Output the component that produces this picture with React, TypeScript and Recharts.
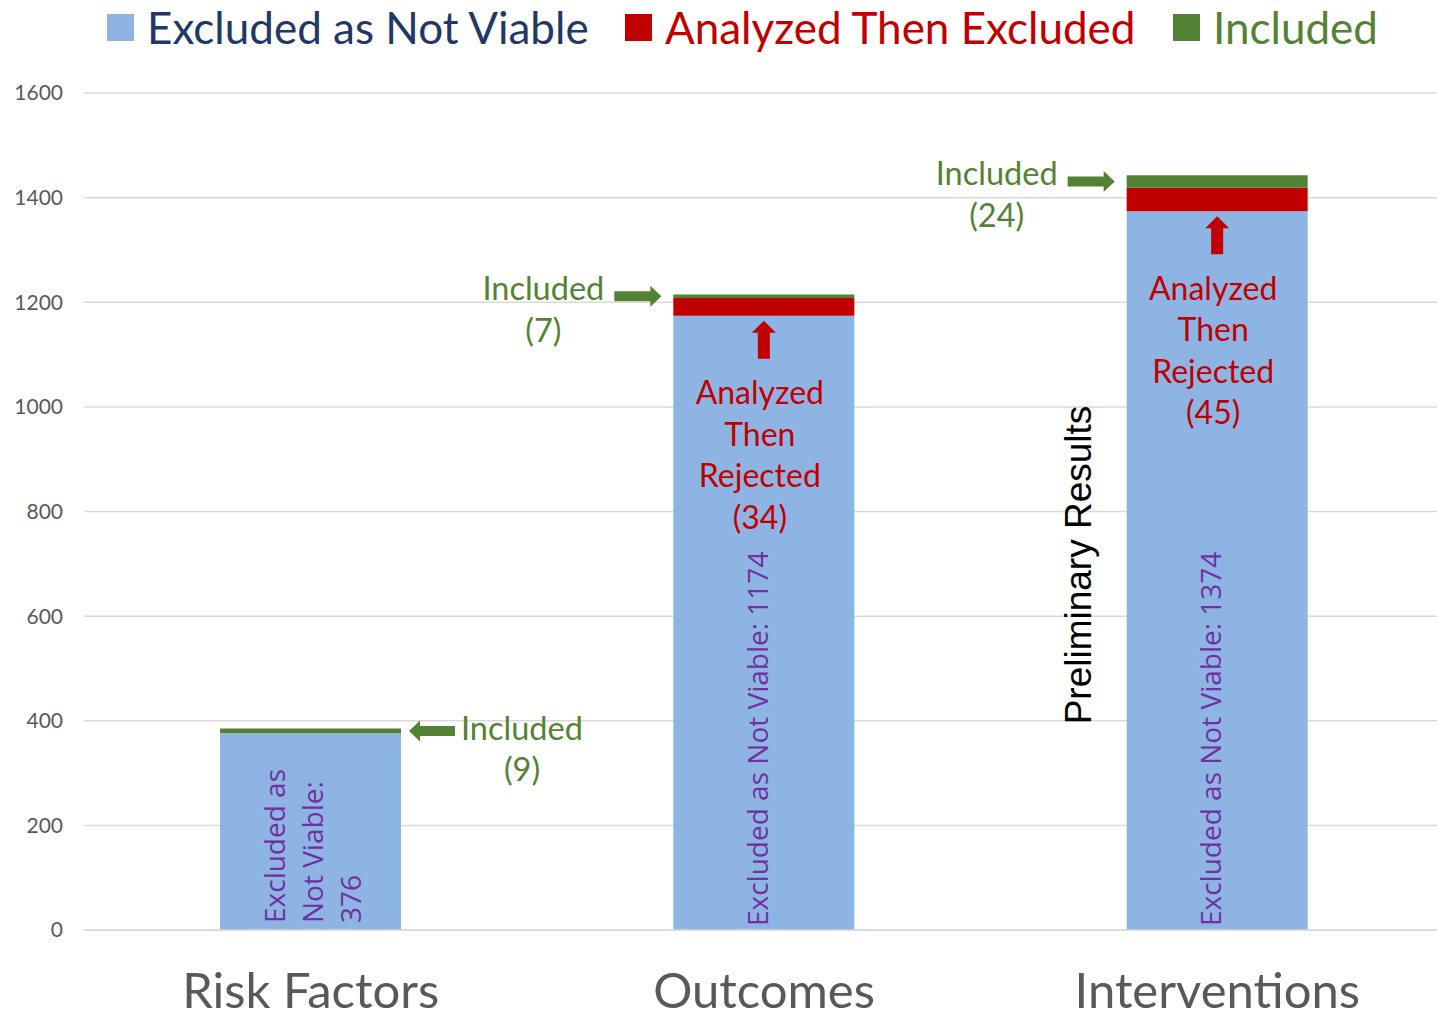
import { BarChart, Bar, XAxis, YAxis, CartesianGrid, LabelList } from 'recharts'

const categories = ['Risk Factors', 'Outcomes', 'Interventions']
const excluded = [376, 1174, 1374]
const analyzed = [0, 34, 45]
const included = [9, 7, 24]
const yTicks = [0, 200, 400, 600, 800, 1000, 1200, 1400, 1600]

const BLUE = '#8EB4E3'
const RED = '#C00000'
const GREEN = '#548235'
const PURPLE = '#7030A0'
const GREY = '#595959'
const CAL = 'Lato, "Noto Sans", sans-serif'

const data = categories.map((name, i) => ({
  name,
  excluded: excluded[i],
  analyzed: analyzed[i],
  included: included[i],
}))

function ExcludedLabel(props: any) {
  const { x, y, width, height, index, value } = props
  const cx = x + width / 2
  const bottom = y + height - 4
  const font = { fill: PURPLE, fontSize: 28, fontFamily: '"Open Sans", sans-serif' }
  if (index === 0) {
    const lines = ['Excluded as', 'Not Viable:', String(value)]
    return (
      <g>
        {lines.map((l, k) => (
          <text key={k} x={cx - 37 + k * 38} y={bottom - 3} transform={`rotate(-90 ${cx - 37 + k * 38} ${bottom - 3})`} dominantBaseline="central" {...font}>
            {l}
          </text>
        ))}
      </g>
    )
  }
  return (
    <g>
      <text x={cx - 7} y={bottom} transform={`rotate(-90 ${cx - 7} ${bottom})`} dominantBaseline="central" {...font}>
        {`Excluded as Not Viable: ${value}`}
      </text>
      {index === 2 && (
        <text x={x - 48} y={565} transform={`rotate(-90 ${x - 48} 565)`} textAnchor="middle" dominantBaseline="central" fill="#000" fontSize={37} fontFamily='"Liberation Sans", Arial, sans-serif'>
          Preliminary Results
        </text>
      )}
    </g>
  )
}

function AnalyzedLabel(props: any) {
  const { x, y, width, height, value } = props
  if (!value) return null
  const cx = x + width / 2
  const tip = y + height + 5
  const end = tip + 38
  const pts = [
    [cx - 6, end], [cx - 6, tip + 12], [cx - 12, tip + 12], [cx, tip],
    [cx + 12, tip + 12], [cx + 6, tip + 12], [cx + 6, end],
  ].map(p => p.join(',')).join(' ')
  const lines = ['Analyzed', 'Then', 'Rejected', `(${value})`]
  return (
    <g>
      <polygon points={pts} fill={RED} />
      {lines.map((l, k) => (
        <text key={k} x={cx - 4} y={end + 33 + k * 41.5} textAnchor="middle" dominantBaseline="central" fill={RED} fontSize={32} fontFamily={CAL}>
          {l}
        </text>
      ))}
    </g>
  )
}

function IncludedLabel(props: any) {
  const { x, y, width, height, index, value } = props
  const my = y + height / 2
  const font = { fill: GREEN, fontSize: 32.5, fontFamily: CAL }
  if (index === 0) {
    const tip = x + width + 8
    const tail = tip + 46
    const pts = [
      [tail, my - 5], [tip + 11, my - 5], [tip + 11, my - 10.5], [tip, my],
      [tip + 11, my + 10.5], [tip + 11, my + 5], [tail, my + 5],
    ].map(p => p.join(',')).join(' ')
    return (
      <g>
        <polygon points={pts} fill={GREEN} />
        <text x={tail + 6} y={my - 3} dominantBaseline="central" {...font}>Included</text>
        <text x={tail + 67} y={my + 38} textAnchor="middle" dominantBaseline="central" {...font}>{`(${value})`}</text>
      </g>
    )
  }
  const tip = x - 12
  const tail = tip - 47
  const pts = [
    [tail, my - 5], [tip - 11, my - 5], [tip - 11, my - 10.5], [tip, my],
    [tip - 11, my + 10.5], [tip - 11, my + 5], [tail, my + 5],
  ].map(p => p.join(',')).join(' ')
  return (
    <g>
      <polygon points={pts} fill={GREEN} />
      <text x={tail - 71} y={my - 9} textAnchor="middle" dominantBaseline="central" {...font}>Included</text>
      <text x={tail - 71} y={my + 33} textAnchor="middle" dominantBaseline="central" {...font}>{`(${value})`}</text>
    </g>
  )
}

function CategoryTick(props: any) {
  const { x, y, payload } = props
  return (
    <text x={x} y={y + 70} textAnchor="middle" fill={GREY} fontSize={49} fontFamily={CAL}>
      {payload.value}
    </text>
  )
}

const legendItems = [
  { label: 'Excluded as Not Viable', color: BLUE, text: '#1F3864', left: 107 },
  { label: 'Analyzed Then Excluded', color: RED, text: RED, left: 625 },
  { label: 'Included', color: GREEN, text: GREEN, left: 1173 },
]

export default function App() {
  return (
    <div style={{ position: 'absolute', left: 0, top: 0, width: 1437, height: 1020, overflow: 'hidden', background: '#fff' }}>
      {legendItems.map(it => (
        <div key={it.label} style={{ position: 'absolute', left: it.left, top: 0, height: 54, display: 'flex', alignItems: 'center' }}>
          <div style={{ width: 27, height: 27, background: it.color, marginRight: 13 }} />
          <span style={{ color: it.text, fontSize: 44, fontFamily: CAL, lineHeight: '54px', whiteSpace: 'nowrap' }}>{it.label}</span>
        </div>
      ))}
      <BarChart width={1445} height={1020} data={data} margin={{ top: 93, right: 1, left: 0, bottom: 0 }} barCategoryGap="30%">
        <CartesianGrid stroke="#D9D9D9" strokeWidth={1.5} vertical={false} />
        <XAxis dataKey="name" height={90} axisLine={{ stroke: '#D9D9D9', strokeWidth: 1.5 }} tickLine={false} tick={<CategoryTick />} interval={0} />
        <YAxis domain={[0, 1600]} ticks={yTicks} width={84} axisLine={false} tickLine={false} tickMargin={15} tick={{ fill: GREY, fontSize: 21, fontFamily: CAL }} />
        <Bar dataKey="excluded" stackId="a" fill={BLUE} isAnimationActive={false}>
          <LabelList dataKey="excluded" content={<ExcludedLabel />} />
        </Bar>
        <Bar dataKey="analyzed" stackId="a" fill={RED} isAnimationActive={false}>
          <LabelList dataKey="analyzed" content={<AnalyzedLabel />} />
        </Bar>
        <Bar dataKey="included" stackId="a" fill={GREEN} isAnimationActive={false}>
          <LabelList dataKey="included" content={<IncludedLabel />} />
        </Bar>
      </BarChart>
    </div>
  )
}
